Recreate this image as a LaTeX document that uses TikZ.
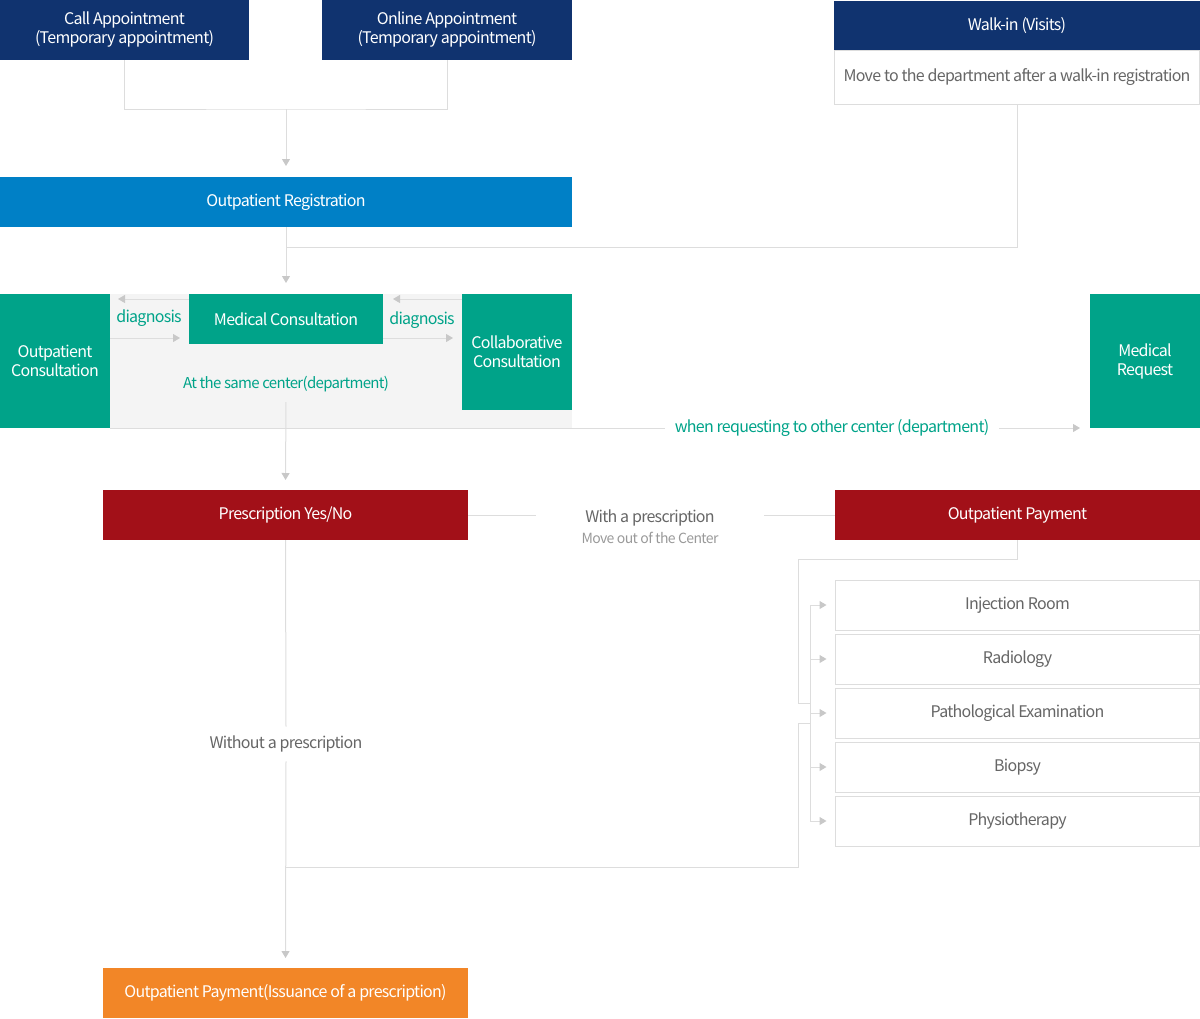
\documentclass[tikz,border=0pt]{standalone}
\usepackage{fontspec}
\setmainfont[LetterSpace = -4.5]{Noto Sans CJK KR}
\usetikzlibrary{arrows.meta}
\definecolor{navy}{HTML}{10336F}
\definecolor{regblue}{HTML}{0080C6}
\definecolor{medteal}{HTML}{00A389}
\definecolor{prescred}{HTML}{A21018}
\definecolor{payorange}{HTML}{F28627}
\definecolor{linegray}{HTML}{DDDDDD}
\definecolor{tipgray}{HTML}{C8C8C8}
\definecolor{txtgray}{HTML}{666666}
\definecolor{softgray}{HTML}{999999}
\definecolor{panelgray}{HTML}{F4F4F4}
\begin{document}
\begin{tikzpicture}[x = 1pt, y = -1pt,
		box/.style = {anchor = north west, inner sep = 0pt, outer sep = 0pt, text = white, align = center, font = \fontsize{16}{19}\selectfont},
		testbox/.style = {box, draw = linegray, line width = 1pt, fill = white, text = txtgray, minimum width = 364pt, minimum height = 50pt},
		link/.style = {draw = linegray, line width = 1pt},
		arr/.style = {link, -{Triangle[width = 8pt, length = 7pt, color = tipgray]}},
		note/.style = {inner sep = 0pt, font = \fontsize{16}{19}\selectfont}]
	\useasboundingbox (0, 0) rectangle (1200, 1018);
	% appointments
	\node[box, fill = navy, minimum width = 249pt, minimum height = 60pt] (call) at (0, 0) {Call Appointment\\(Temporary appointment)};
	\node[box, fill = navy, minimum width = 250pt, minimum height = 60pt] (online) at (322, 0) {Online Appointment\\(Temporary appointment)};
	\node[box, fill = navy, minimum width = 366pt, minimum height = 50pt] (walk) at (834, 1) {Walk-in (Visits)};
	\node[testbox, minimum width = 365pt, minimum height = 54pt] (walksub) at (834.5, 50) {Move to the department after a walk-in registration};
	\node[box, fill = regblue, minimum width = 572pt, minimum height = 50pt] (reg) at (0, 177) {Outpatient Registration};
	\coordinate (aj) at (286, 109);
	\coordinate (rj) at (286, 247);
	\draw[link] (call.south) |- (aj) -| (online.south);
	\draw[arr, shorten >= 11pt] (aj) -- (reg.north);
	\draw[link] (walksub.south) |- (rj);
	% consultation
	\node[box, fill = panelgray, minimum width = 462pt, minimum height = 134pt] (panel) at (110, 294) {};
	\node[box, fill = medteal, minimum width = 110pt, minimum height = 134pt] (outcon) at (0, 294) {Outpatient\\Consultation};
	\node[box, fill = medteal, minimum width = 194pt, minimum height = 50pt] (medcon) at (189, 294) {Medical Consultation};
	\node[box, fill = medteal, minimum width = 110pt, minimum height = 116pt] (collab) at (462, 294) {Collaborative\\Consultation};
	\node[box, fill = medteal, minimum width = 110pt, minimum height = 134pt] (medreq) at (1090, 294) {Medical\\Request};
	\draw[arr, shorten >= 11pt] (reg.south) -- (medcon.north);
	\draw[arr, shorten >= 8pt] ([yshift = -5pt]medcon.north west) -- ([yshift = -5pt]outcon.north east);
	\draw[arr, shorten >= 9pt] ([yshift = -44pt]outcon.north east) -- ([yshift = 6pt]medcon.south west);
	\draw[arr, shorten >= 10pt] ([yshift = -5pt]collab.north west) -- ([yshift = -5pt]medcon.north east);
	\draw[arr, shorten >= 9pt] ([yshift = 6pt]medcon.south east) -- ([yshift = -44pt]collab.north west);
		\node[note, text = medteal] (diagl) at (149, 318) {diagnosis};
		\node[note, text = medteal] (diagr) at (422, 320) {diagnosis};
		\node[note, text = medteal, font = \fontsize{15}{18}\selectfont] (same) at (286, 384) {At the same center(department)};
	\node[note, text = medteal, inner xsep = 10pt] (req) at (832, 428) {when requesting to other center (department)};
	\draw[link] (outcon.south east) -- (req.west);
	\draw[arr, shorten >= 10pt] (req.east) -- (medreq.south west);
	% prescription
	\node[box, fill = prescred, minimum width = 365pt, minimum height = 50pt] (presc) at (103, 490) {Prescription Yes/No};
	\node[box, fill = prescred, minimum width = 365pt, minimum height = 50pt] (pay) at (835, 490) {Outpatient Payment};
	\draw[arr, shorten <= 10pt, shorten >= 10pt] (same.south) -- (presc.north);
	\node[note, text = txtgray, align = center, minimum width = 228pt] (with) at (650, 527) {With a prescription\\[2pt]{\fontsize{14}{16}\selectfont\color{softgray}Move out of the Center}};
	\draw[link] (presc.east) -- (presc.east -| with.west);
	\draw[link] (pay.west -| with.east) -- (pay.west);
	% tests
	\coordinate (bx) at (810, 0);
	\foreach \lbl [count = \i] in {Injection Room, Radiology, Pathological Examination, Biopsy, Physiotherapy} {
		\node[testbox] (t\i) at (835.5, 580 + 54 * \i - 54) {\lbl};
		\draw[arr, shorten >= 9pt] (t\i.west -| bx) -- (t\i.west);
	}
	\draw[link] (t1.west -| bx) -- (t5.west -| bx);
	\draw[link] (pay.south) -- ++(0, 19) -| (798, 703) -- (810, 703);
	% without prescription
	\node[note, text = txtgray, inner ysep = 9pt] (wo) at (286, 744) {Without a prescription};
	\node[box, fill = payorange, minimum width = 365pt, minimum height = 50pt] (final) at (103, 968) {Outpatient Payment(Issuance of a prescription)};
	\coordinate (wj) at (286, 867);
	\draw[link] (presc.south) -- (wo.north);
	\draw[arr, shorten >= 10pt] (wo.south) -- (final.north);
	\draw[link] (wj) -| (798, 723) -- (810, 723);
\end{tikzpicture}
\end{document}
